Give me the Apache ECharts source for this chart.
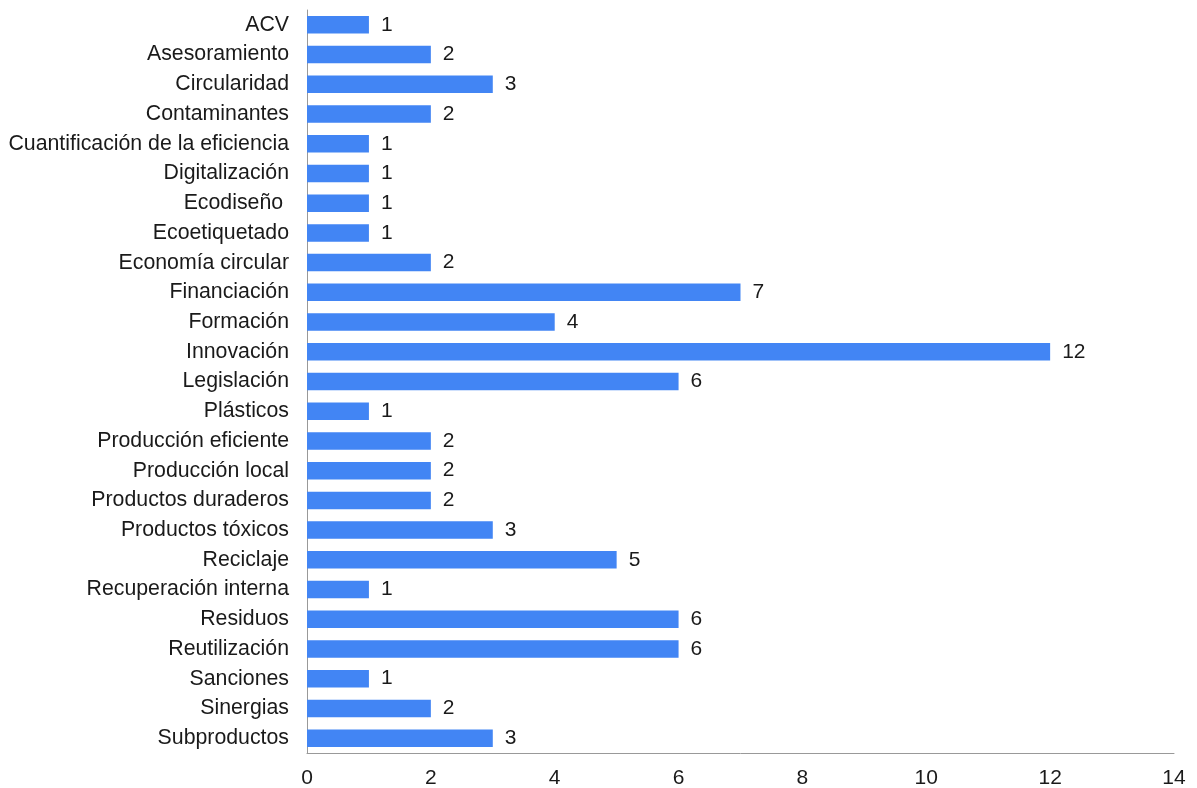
<!DOCTYPE html>
<html>
<head>
<meta charset="utf-8">
<script src="https://cdn.jsdelivr.net/npm/echarts@6/dist/echarts.min.js"></script>
<style>html,body{margin:0;padding:0;background:#fff}#c{width:1197px;height:788px}</style>
</head>
<body>
<div id="c"></div>
<script>
const categories = ["ACV","Asesoramiento","Circularidad","Contaminantes","Cuantificación de la eficiencia","Digitalización","Ecodiseño ","Ecoetiquetado","Economía circular","Financiación","Formación","Innovación","Legislación","Plásticos","Producción eficiente","Producción local","Productos duraderos","Productos tóxicos","Reciclaje","Recuperación interna","Residuos","Reutilización","Sanciones","Sinergias","Subproductos"];
const values = [1,2,3,2,1,1,1,1,2,7,4,12,6,1,2,2,2,3,5,1,6,6,1,2,3];
const xTicks = {min:0, max:14, interval:2};

const chart = echarts.init(document.getElementById('c'), null, {renderer:'canvas'});
const font = 'Liberation Sans, Arial, sans-serif';
chart.setOption({
  animation:false,
  grid:{left:307, right:23, top:10, bottom:35, containLabel:false, outerBoundsMode:'none'},
  xAxis:{
    type:'value', min:xTicks.min, max:xTicks.max, interval:xTicks.interval,
    axisLine:{show:true, lineStyle:{color:'#999', width:1}},
    axisTick:{show:false},
    splitLine:{show:false},
    axisLabel:{color:'#1a1a1a', fontSize:21, fontFamily:font, margin:15}
  },
  yAxis:{
    type:'category', data:categories, inverse:true,
    axisLine:{show:true, lineStyle:{color:'#999', width:1}},
    axisTick:{show:false},
    axisLabel:{color:'#1a1a1a', fontSize:21.3, fontFamily:font, margin:18, padding:[3,0,0,0]}
  },
  series:[{
    type:'bar', data:values, barWidth:17.5,
    itemStyle:{color:'#4285f4'},
    label:{show:true, position:'right', distance:12, color:'#1a1a1a', fontSize:21, fontFamily:font, padding:[3,0,0,0]}
  }]
});
</script>
</body>
</html>
